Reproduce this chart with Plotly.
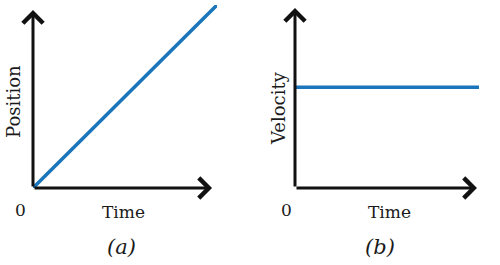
import plotly.graph_objects as go

# data
time_a = [0.0, 1.0]
position = [0.0, 1.0]
time_b = [0.0, 1.0]
velocity = [0.55, 0.55]
axis_tip_a = [0.973, 0.973]   # x-tip, y-tip (data units)
axis_tip_b = [0.989, 0.984]

W, H = 500, 265
def px(x):
    return x / W
def py(y):
    return 1 - y / H

fig = go.Figure()
fig.add_trace(go.Scatter(x=time_a, y=position, mode="lines",
                         line=dict(color="#1b75bb", width=3.5), xaxis="x", yaxis="y",
                         showlegend=False, hoverinfo="skip"))
fig.add_trace(go.Scatter(x=time_b, y=velocity, mode="lines",
                         line=dict(color="#1b75bb", width=3.5), xaxis="x2", yaxis="y2",
                         showlegend=False, hoverinfo="skip"))

ydom = [py(188), py(5)]
ax_common = dict(visible=False, fixedrange=True)
fig.update_layout(
    width=W, height=H, margin=dict(l=0, r=0, t=0, b=0),
    paper_bgcolor="white", plot_bgcolor="rgba(0,0,0,0)",
    xaxis=dict(domain=[px(33), px(217)], range=[0, 1], **ax_common),
    yaxis=dict(domain=ydom, range=[0, 1], anchor="x", **ax_common),
    xaxis2=dict(domain=[px(295), px(479)], range=[0, 1], anchor="y2", **ax_common),
    yaxis2=dict(domain=ydom, range=[0, 1], anchor="x2", **ax_common),
)

annots = []
def arrow(xr, yr, x, y):
    annots.append(dict(xref=xr, yref=yr, axref=xr, ayref=yr, x=x, y=y, ax=0, ay=0,
                       text="", showarrow=True, arrowhead=4, arrowsize=1.3,
                       arrowwidth=3, arrowcolor="#111111"))
arrow("x", "y", axis_tip_a[0], 0)
arrow("x", "y", 0, axis_tip_a[1])
arrow("x2", "y2", axis_tip_b[0], 0)
arrow("x2", "y2", 0, axis_tip_b[1])

fnt = dict(family="DejaVu Serif", size=17, color="#1a1a1a")
def label(text, x, y, angle=0, italic=False, size=17):
    f = dict(fnt)
    f["size"] = size
    if italic:
        f["style"] = "italic"
    annots.append(dict(xref="paper", yref="paper", x=px(x), y=py(y), text=text,
                       showarrow=False, font=f, textangle=angle,
                       xanchor="center", yanchor="middle"))
label("0", 20, 210)
label("Time", 123, 212)
label("(a)", 121, 247, italic=True, size=21)
label("Position", 13, 102, angle=-90, size=18)
label("0", 286, 210)
label("Time", 389, 212)
label("(b)", 380, 247, italic=True, size=21)
label("Velocity", 278, 108, angle=-90, size=18)
fig.update_layout(annotations=annots)

fig.write_html("out.html")
